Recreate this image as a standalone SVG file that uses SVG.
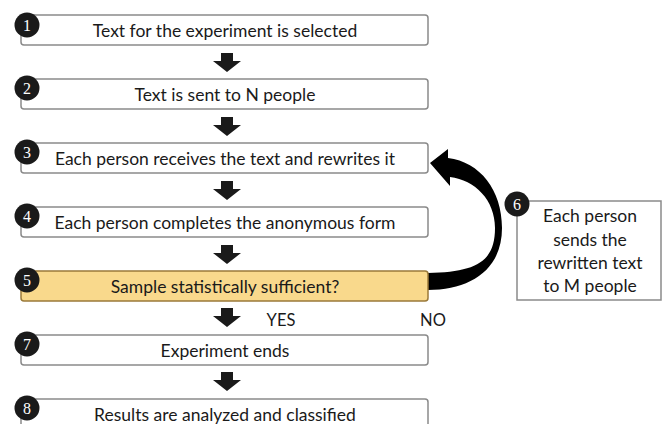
<svg xmlns="http://www.w3.org/2000/svg" width="662" height="424" viewBox="0 0 662 424">
<defs>
<style>
.box{fill:#ffffff;stroke:#8a8a8a;stroke-width:1.5}
.hl{fill:#f9d98c;stroke:#9a7a3a;stroke-width:1.5}
.lbl{font-family:Lato,"Open Sans",sans-serif;font-size:17.5px;fill:#1a1a1a;text-anchor:middle}
.yn{font-family:Lato,"Open Sans",sans-serif;font-size:16.5px;fill:#1a1a1a;text-anchor:middle}
.num{font-family:"Liberation Serif",serif;font-size:16px;fill:#ffffff;text-anchor:middle}
.dot{fill:#1a1a1a}
.arr{fill:#1a1a1a}
</style>
<path id="down" d="M-6 0 H6 V8 H14 L0 19 L-14 8 H-6 Z"/>
</defs>
<rect width="662" height="424" fill="#ffffff"/>
<g id="connectors">
<use href="#down" class="arr" x="227" y="53"/>
<use href="#down" class="arr" x="227" y="117"/>
<use href="#down" class="arr" x="227" y="181"/>
<use href="#down" class="arr" x="227" y="245"/>
<use href="#down" class="arr" x="227" y="308"/>
<use href="#down" class="arr" x="227" y="372"/>
<path fill="#000" d="M428 273 C476 272 495 262 495 228 C495 200 475 180 450 177 L450 186 L430 163 L448 149 L448 158 C480 162 502 190 502 228 C502 270 470 290 428 290 Z"/>
<text class="yn" x="281" y="326">YES</text>
<text class="yn" x="433" y="326">NO</text>
</g>
<g id="n1">
<rect class="box" x="21" y="15" width="407" height="30" rx="3"/>
<circle class="dot" cx="27" cy="25" r="12.5"/>
<text class="num" x="27" y="30.5">1</text>
<text class="lbl" x="225" y="36.5">Text for the experiment is selected</text>
</g>
<g id="n2">
<rect class="box" x="21" y="79" width="407" height="30" rx="3"/>
<circle class="dot" cx="27" cy="88" r="12.5"/>
<text class="num" x="27" y="93.5">2</text>
<text class="lbl" x="225" y="100.5">Text is sent to N people</text>
</g>
<g id="n3">
<rect class="box" x="21" y="143" width="407" height="30" rx="3"/>
<circle class="dot" cx="27" cy="152" r="12.5"/>
<text class="num" x="27" y="157.5">3</text>
<text class="lbl" x="225" y="164.5">Each person receives the text and rewrites it</text>
</g>
<g id="n4">
<rect class="box" x="21" y="207" width="407" height="30" rx="3"/>
<circle class="dot" cx="27" cy="216" r="12.5"/>
<text class="num" x="27" y="221.5">4</text>
<text class="lbl" x="225" y="228.5">Each person completes the anonymous form</text>
</g>
<g id="n5">
<rect class="hl" x="21" y="271" width="407" height="30" rx="3"/>
<circle class="dot" cx="27" cy="280" r="12.5"/>
<text class="num" x="27" y="285.5">5</text>
<text class="lbl" x="225" y="292.5">Sample statistically sufficient?</text>
</g>
<g id="n6">
<rect class="box" x="517" y="201" width="144" height="99"/>
<circle class="dot" cx="517" cy="204" r="12.5"/>
<text class="num" x="517" y="209.5">6</text>
<text class="lbl" x="590" y="222">Each person</text>
<text class="lbl" x="590" y="246">sends the</text>
<text class="lbl" x="590" y="269">rewritten text</text>
<text class="lbl" x="590" y="292">to M people</text>
</g>
<g id="n7">
<rect class="box" x="21" y="335" width="407" height="30" rx="3"/>
<circle class="dot" cx="27" cy="344" r="12.5"/>
<text class="num" x="27" y="349.5">7</text>
<text class="lbl" x="225" y="356.5">Experiment ends</text>
</g>
<g id="n8">
<rect class="box" x="21" y="399" width="407" height="30" rx="3"/>
<circle class="dot" cx="27" cy="408" r="12.5"/>
<text class="num" x="27" y="413.5">8</text>
<text class="lbl" x="225" y="420.5">Results are analyzed and classified</text>
</g>
</svg>
